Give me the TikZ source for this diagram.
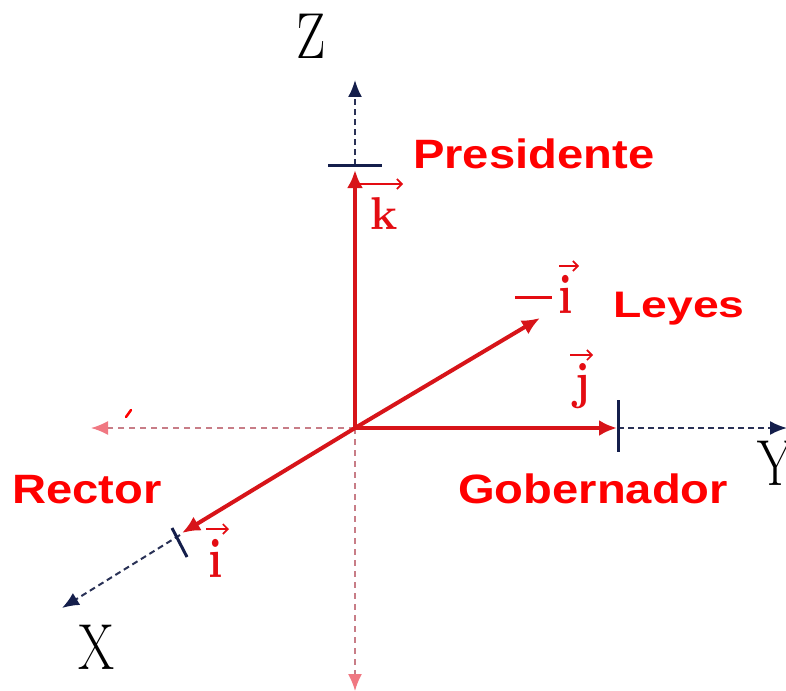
\documentclass[tikz,border=0pt]{standalone}
\usepackage{fontspec}
\newfontfamily\labfont{Liberation Sans}
\usetikzlibrary{arrows.meta}
\definecolor{vred}{RGB}{215,20,25}
\definecolor{lred}{RGB}{228,12,18}
\definecolor{tred}{RGB}{255,0,0}
\definecolor{navy}{RGB}{20,30,75}
\definecolor{pinkax}{RGB}{200,125,135}
\definecolor{pinktip}{RGB}{240,120,130}
\tikzset{
  vec/.style={draw=vred, line width=4pt, -{Latex[length=18pt,width=16pt]}},
  axpos/.style={draw=navy!80!gray, line width=2pt, dash pattern=on 6pt off 4pt, -{Latex[length=17pt,width=14pt,fill=navy,color=navy]}},
  axneg/.style={draw=pinkax, line width=1.6pt, dash pattern=on 6pt off 5pt, -{Latex[length=17pt,width=14pt,fill=pinktip,color=pinktip]}},
  tickmark/.style={draw=navy, line width=3pt},
  lab/.style={text=tred, inner sep=0pt, font=\labfont\bfseries\fontsize{41}{45}\selectfont},
  axlab/.style={text=black, inner sep=0pt, font=\fontsize{52}{56}\selectfont},
  veclab/.style={text=lred, inner sep=0pt, font=\bfseries\fontsize{46}{50}\selectfont},
  overarr/.style={draw=lred, line width=1.6pt, -{Straight Barb[length=5pt,width=10pt]}},
  minusbar/.style={draw=lred, line width=3pt},
}
\begin{document}
\begin{tikzpicture}[x=1pt,y=-1pt]
\useasboundingbox (0,0) rectangle (786,690);
\coordinate (O) at (355,428);
\coordinate (Kt) at (355,170);
\coordinate (Jt) at (617,428);
\coordinate (It) at (182,533);
\coordinate (Mt) at (540,318);
% ticks
\coordinate (Zk1) at (328,165); \coordinate (Zk2) at (382,165);
\coordinate (Yk1) at (618,400); \coordinate (Yk2) at (618,452);
\coordinate (Xk1) at (172,528); \coordinate (Xk2) at (187,557);
\coordinate (Zs) at (355,165); \coordinate (Ze) at (355,80);
\coordinate (Ys) at (618,428); \coordinate (Ye) at (787,428);
\coordinate (Xs) at (180,535); \coordinate (Xe) at (62,608);
\coordinate (NXe) at (91,428);
\coordinate (NZe) at (355,691);
% negative axes
\draw[axneg] (O) -- (NXe);
\draw[axneg] (O) -- (NZe);
\draw[draw=tred, line width=2.5pt, line cap=round] (126,417) -- (131,410);
% positive axes beyond ticks
\draw[axpos] (Zs) -- (Ze);
\draw[axpos] (Ys) -- (Ye);
\draw[axpos] (Xs) -- (Xe);
% vectors
\draw[vec] (O) -- (Kt);
\draw[vec] (O) -- (Jt);
\draw[vec] (O) -- (It);
\draw[vec] (O) -- (Mt);
% ticks
\draw[tickmark] (Zk1) -- (Zk2);
\draw[tickmark] (Yk1) -- (Yk2);
\draw[tickmark] (Xk1) -- (Xk2);
% axis labels
\node[axlab] (Zl) at (311,36) {\scalebox{1}[1.25]{Z}};
\node[axlab] (Xl) at (97,647) {\scalebox{1}[1.25]{X}};
\node[axlab] (Yl) at (776,463) {\scalebox{1}[1.25]{Y}};
% vector labels
\node[veclab] (kl) at (384,214) {k};
\coordinate (ka1) at (358,184); \coordinate (ka2) at (403,184);
\draw[overarr] (ka1) -- (ka2);
\node[veclab] (il) at (216,558) {\scalebox{1}[1.22]{i}};
\coordinate (ia1) at (206,529); \coordinate (ia2) at (229,529);
\draw[overarr] (ia1) -- (ia2);
\node[veclab] (ml) at (566,294) {\scalebox{1}[1.22]{i}};
\coordinate (ma1) at (559,266); \coordinate (ma2) at (579,266);
\draw[overarr] (ma1) -- (ma2);
\coordinate (mb1) at (515,297); \coordinate (mb2) at (552,297);
\draw[minusbar] (mb1) -- (mb2);
\node[veclab] (jl) at (582,386) {\scalebox{1}[1.12]{j}};
\coordinate (ja1) at (570,355); \coordinate (ja2) at (593,355);
\draw[overarr] (ja1) -- (ja2);
% text labels
\node[lab, anchor=base west] (pres) at (413,168) {\scalebox{1.15}[1]{Presidente}};
\node[lab, anchor=base west] (ley) at (613,317) {\scalebox{1.13}[0.9]{Leyes}};
\node[lab, anchor=base west] (gob) at (458,503) {\scalebox{1.15}[1]{Gobernador}};
\node[lab, anchor=base west] (rec) at (12,503) {\scalebox{1.15}[1]{Rector}};
\end{tikzpicture}
\end{document}
